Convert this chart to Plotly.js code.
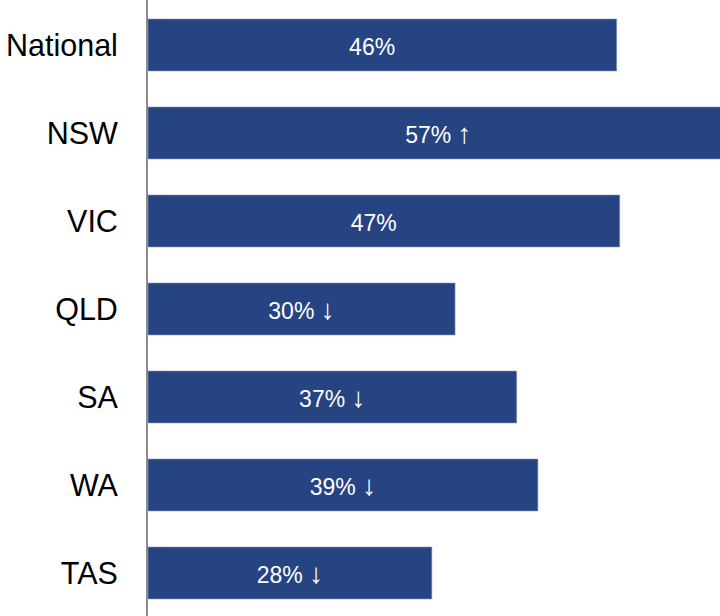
<!DOCTYPE html>
<html>
<head>
<meta charset="utf-8">
<script src="https://cdn.plot.ly/plotly-3.0.1.min.js"></script>
<style>html,body{margin:0;padding:0;background:#fff;}#chart{width:720px;height:616px;}</style>
</head>
<body>
<div id="chart"></div>
<script>
var regions = ['National', 'NSW', 'VIC', 'QLD', 'SA', 'WA', 'TAS'];
var values = [46.4, 57.5, 46.7, 30.4, 36.5, 38.6, 28.1];
var shownValues = ['46%', '57%', '47%', '30%', '37%', '39%', '28%'];
var trends = ['', '↑', '', '↓', '↓', '↓', '↓'];

var arrowStyle = 'font-size:28px;';
var labels = shownValues.map(function (v, i) {
  if (trends[i]) return v + ' <span style="' + arrowStyle + '">' + trends[i] + '</span>';
  return v + ' <span style="' + arrowStyle + 'color:rgba(0,0,0,0)">↑</span>';
});

var trace = {
  type: 'bar',
  orientation: 'h',
  y: regions,
  x: values,
  text: labels,
  textposition: 'inside',
  insidetextanchor: 'middle',
  textangle: 0,
  constraintext: 'none',
  textfont: {family: 'Liberation Sans, Arial, sans-serif', size: 23, color: '#ffffff'},
  marker: {color: '#264382', line: {color: '#8596bd', width: 0.6}},
  hoverinfo: 'none',
  cliponaxis: true
};

var layout = {
  width: 720,
  height: 616,
  margin: {l: 148, r: 0, t: 0, b: 0, pad: 0},
  paper_bgcolor: '#ffffff',
  plot_bgcolor: '#ffffff',
  showlegend: false,
  bargap: 0.41,
  xaxis: {
    range: [0, 56.63],
    visible: false,
    showgrid: false,
    zeroline: false
  },
  yaxis: {
    type: 'category',
    range: [6.4886, -0.5114],
    showgrid: false,
    zeroline: false,
    showline: true,
    linecolor: '#8c8c8c',
    linewidth: 2,
    ticks: '',
    ticklabelstandoff: 22,
    tickfont: {family: 'Liberation Sans, Arial, sans-serif', size: 30.5, color: '#000000'}
  }
};

Plotly.newPlot('chart', [trace], layout, {displayModeBar: false, staticPlot: true});
</script>
</body>
</html>
